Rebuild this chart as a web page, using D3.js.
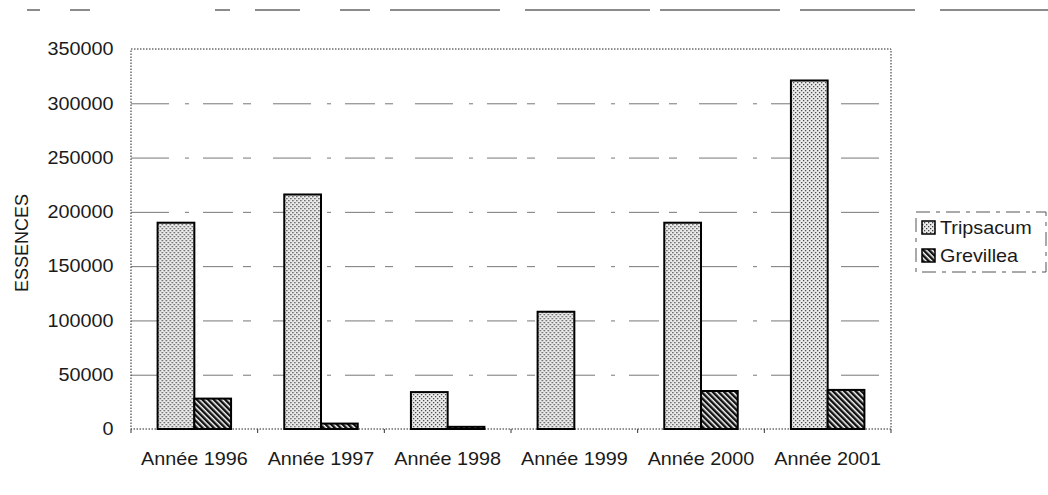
<html>
<head>
<script src="https://cdnjs.cloudflare.com/ajax/libs/d3/7.8.5/d3.min.js"></script>
<style>
  body { margin: 0; background: #fff; }
  text { font-family: "Liberation Sans", Arial, sans-serif; fill: #1a1a1a; }
</style>
</head>
<body>
<div id="chart"></div>
<script>
const years = ["Année 1996", "Année 1997", "Année 1998", "Année 1999", "Année 2000", "Année 2001"];
const seriesNames = ["Tripsacum", "Grevillea"];
const tripsacum = [190000, 216000, 34000, 108000, 190000, 321000];
const grevillea = [28000, 5000, 2000, 0, 35000, 36000];
const yTicks = [0, 50000, 100000, 150000, 200000, 250000, 300000, 350000];

const W = 1048, H = 495;
const plotL = 131, plotR = 891, plotT = 49, plotB = 429;
const sx = 1.1; // scan is slightly stretched horizontally

const svg = d3.select("#chart").append("svg")
  .attr("width", W).attr("height", H);

svg.append("rect").attr("width", W).attr("height", H).attr("fill", "#fff");

// patterns
const defs = svg.append("defs");
const pDot = defs.append("pattern").attr("id", "pTrip")
  .attr("width", 4).attr("height", 4).attr("patternUnits", "userSpaceOnUse");
pDot.append("rect").attr("width", 4).attr("height", 4).attr("fill", "#ececec");
pDot.append("rect").attr("x", 0).attr("y", 0).attr("width", 1.3).attr("height", 1.3).attr("fill", "#444");
pDot.append("rect").attr("x", 2).attr("y", 2).attr("width", 1.3).attr("height", 1.3).attr("fill", "#444");

const pHatch = defs.append("pattern").attr("id", "pGrev")
  .attr("width", 4).attr("height", 4).attr("patternUnits", "userSpaceOnUse")
  .attr("patternTransform", "rotate(-45)");
pHatch.append("rect").attr("width", 4).attr("height", 4).attr("fill", "#fff");
pHatch.append("rect").attr("width", 2.5).attr("height", 4).attr("fill", "#111");

const fills = { Tripsacum: "url(#pTrip)", Grevillea: "url(#pGrev)" };

// scan header line (broken)
svg.append("line")
  .attr("x1", 27).attr("x2", W).attr("y1", 10).attr("y2", 10)
  .attr("stroke", "#666").attr("stroke-width", 1.5)
  .attr("stroke-dasharray", "13,30,20,125,15,25,45,40,30,20,110,25,125,10,120,20,115,25,108");

const x0 = d3.scaleBand().domain(years).range([plotL, plotR])
  .paddingInner(0.42).paddingOuter(0.21);
const x1 = d3.scaleBand().domain(seriesNames).range([0, x0.bandwidth()]);
const y = d3.scaleLinear().domain([0, 350000]).range([plotB, plotT]);

// gridlines
svg.append("g")
  .attr("transform", `translate(${plotL},0)`)
  .call(d3.axisLeft(y).tickValues(yTicks.slice(1, -1)).tickSize(-(plotR - plotL)).tickFormat(""))
  .call(g => g.select(".domain").remove())
  .selectAll("line")
  .attr("stroke", "#777").attr("stroke-width", 1)
  .attr("stroke-dasharray", "38,16,4,14,30,10,8,22");

// plot frame (dotted)
svg.append("rect")
  .attr("x", plotL).attr("y", plotT)
  .attr("width", plotR - plotL).attr("height", plotB - plotT)
  .attr("fill", "none").attr("stroke", "#222").attr("stroke-width", 1)
  .attr("stroke-dasharray", "1.5,1.5");

// y axis labels
svg.append("g")
  .attr("transform", `translate(${plotL},0)`)
  .call(d3.axisLeft(y).tickValues(yTicks).tickSize(0).tickPadding(16).tickFormat(d3.format("d")))
  .call(g => g.select(".domain").remove())
  .selectAll("text")
  .style("font-size", "18px")
  .attr("font-family", null)
  .attr("transform", `scale(${sx},1)`);

// x axis labels
svg.append("g")
  .attr("transform", `translate(0,${plotB})`)
  .call(d3.axisBottom(x0).tickSize(0).tickPadding(23))
  .call(g => g.select(".domain").remove())
  .selectAll("text")
  .style("font-size", "18px")
  .attr("font-family", null)
  .attr("transform", `scale(${sx},1)`);

// small category boundary ticks
svg.append("g").selectAll("line")
  .data(d3.range(years.length + 1))
  .join("line")
  .attr("x1", i => plotL + i * x0.step()).attr("x2", i => plotL + i * x0.step())
  .attr("y1", plotB).attr("y2", plotB + 4)
  .attr("stroke", "#333").attr("stroke-width", 1);

// bars
const rows = years.map((yr, i) => ({ year: yr, values: [
  { key: "Tripsacum", value: tripsacum[i] },
  { key: "Grevillea", value: grevillea[i] }
]}));

svg.append("g").selectAll("g")
  .data(rows)
  .join("g")
  .attr("transform", d => `translate(${x0(d.year)},0)`)
  .selectAll("rect")
  .data(d => d.values.filter(v => v.value > 0))
  .join("rect")
  .attr("x", d => x1(d.key))
  .attr("y", d => y(d.value))
  .attr("width", x1.bandwidth())
  .attr("height", d => plotB - y(d.value))
  .attr("fill", d => fills[d.key])
  .attr("stroke", "#000").attr("stroke-width", 2);

// y title
svg.append("text")
  .attr("transform", "translate(28,243) rotate(-90)")
  .attr("text-anchor", "middle")
  .style("font-size", "18px")
  .text("ESSENCES");

// legend
const lg = svg.append("g");
lg.append("rect")
  .attr("x", 916).attr("y", 212).attr("width", 130).attr("height", 60)
  .attr("fill", "#fff").attr("stroke", "#555").attr("stroke-width", 1)
  .attr("stroke-dasharray", "14,6,4,6");

const item = lg.selectAll("g.item")
  .data(seriesNames)
  .join("g").attr("class", "item")
  .attr("transform", (d, i) => `translate(922,${228 + i * 28})`);
item.append("rect")
  .attr("x", 0).attr("y", -7).attr("width", 13).attr("height", 13)
  .attr("fill", d => fills[d]).attr("stroke", "#000").attr("stroke-width", 1.5);
item.append("text")
  .attr("transform", "translate(18,0) scale(" + sx + ",1)")
  .attr("dy", "0.35em")
  .style("font-size", "18px")
  .text(d => d);
</script>
</body>
</html>
